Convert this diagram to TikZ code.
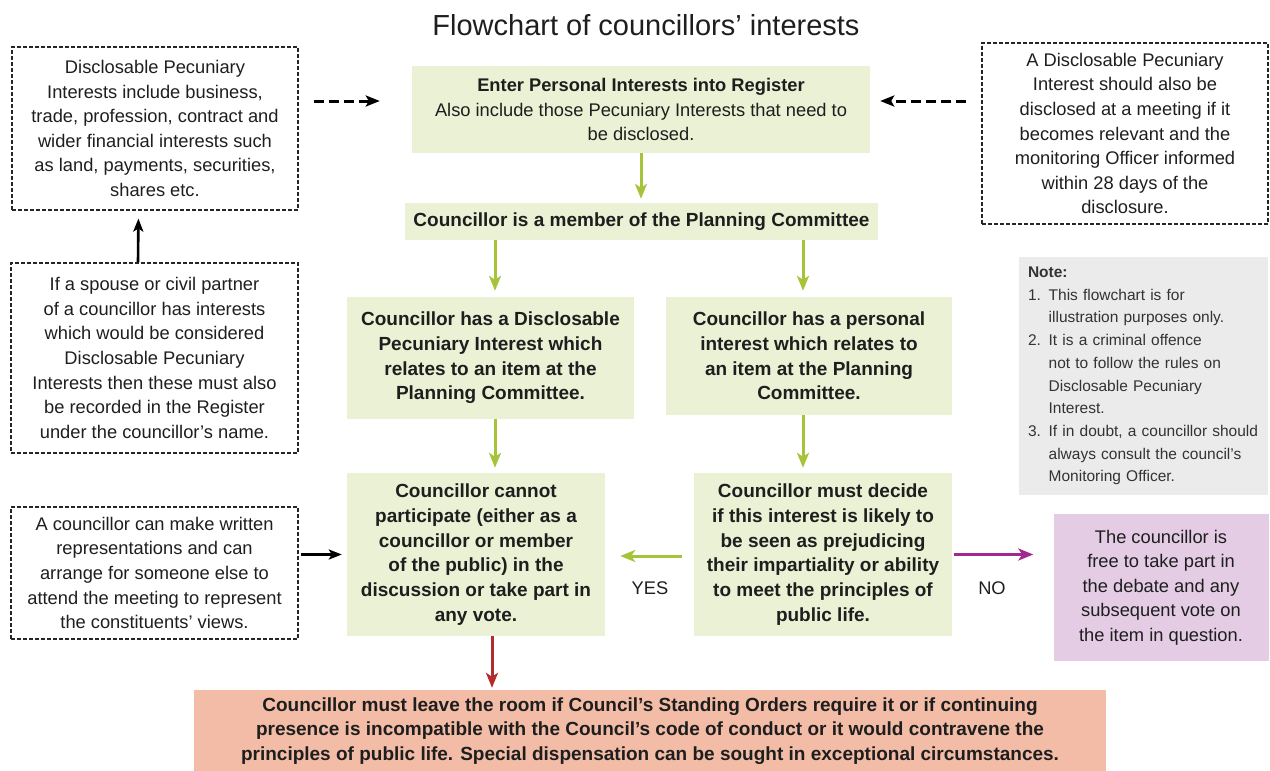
\documentclass[tikz,border=0pt]{standalone}
\usepackage{fontspec}
\setmainfont{Liberation Sans}
\usetikzlibrary{arrows.meta,calc}
\definecolor{gfill}{HTML}{EAF1D4}
\definecolor{garr}{HTML}{A6C43A}
\definecolor{nfill}{HTML}{EBEBEB}
\definecolor{pfill}{HTML}{E4CCE4}
\definecolor{parr}{HTML}{A4278F}
\definecolor{sfill}{HTML}{F2BCA6}
\definecolor{rarr}{HTML}{B22C2C}
\definecolor{txt}{HTML}{1E1E1E}
\newcommand\myreg{\fontsize{18.3}{24.6}\selectfont}
\newcommand\mybold{\fontsize{19}{24.7}\selectfont\bfseries}
\newcommand\mynote{\fontsize{15.5}{22.7}\selectfont}
\begin{document}
\begin{tikzpicture}[x=1pt,y=-1pt,
  every node/.style={text=txt},
  dbox/.style={draw=black!85, line width=1.1pt, dash pattern=on 4pt off 2pt, align=center, inner sep=0pt, font=\myreg},
  gbox/.style={fill=gfill, align=center, inner sep=0pt, font=\mybold},
  dasharr/.style={line width=3pt, dash pattern=on 10pt off 5pt, -{Stealth[length=14pt,width=11pt,inset=3pt]}},
  solarr/.style={line width=2.6pt, -{Stealth[length=13pt,width=10pt,inset=3pt]}},
  grarr/.style={draw=garr, line width=3pt, -{Stealth[length=15pt,width=12pt,inset=4pt]}},
  prarr/.style={draw=parr, line width=3pt, -{Stealth[length=15pt,width=12pt,inset=4pt]}},
  rdarr/.style={draw=rarr, line width=3pt, -{Stealth[length=15pt,width=12pt,inset=4pt]}}]
\useasboundingbox (0,0) rectangle (1270,771);

\node (title) at (646,25) {\fontsize{29}{34}\selectfont Flowchart of councillors’ interests};

\node[dbox, minimum width=286, minimum height=163] (b1) at (155,128.5) {Disclosable Pecuniary\\Interests include business,\\trade, profession, contract and\\wider financial interests such\\as land, payments, securities,\\shares etc.};
\node[dbox, minimum width=287, minimum height=190] (b2) at (154.5,358) {If a spouse or civil partner\\of a councillor has interests\\which would be considered\\Disclosable Pecuniary\\Interests then these must also\\be recorded in the Register\\under the councillor’s name.};
\node[dbox, minimum width=287, minimum height=132] (b3) at (154.5,573) {A councillor can make written\\representations and can\\arrange for someone else to\\attend the meeting to represent\\the constituents’ views.};
\node[dbox, minimum width=286, minimum height=181] (br) at (1125,133.5) {A Disclosable Pecuniary\\Interest should also be\\disclosed at a meeting if it\\becomes relevant and the\\monitoring Officer informed\\within 28 days of the\\disclosure.};

\node[gbox, font=\myreg, minimum width=458, minimum height=87] (enter) at (641,109.5) {{\bfseries Enter Personal Interests into Register}\\Also include those Pecuniary Interests that need to\\be disclosed.};
\node[gbox, minimum width=473, minimum height=37] (member) at (641.5,221.5) {Councillor is a member of the Planning Committee};
\node[gbox, minimum width=287, minimum height=122] (dpi) at (490.5,358) {Councillor has a Disclosable\\Pecuniary Interest which\\relates to an item at the\\Planning Committee.};
\node[gbox, minimum width=286, minimum height=118] (pers) at (809,356) {Councillor has a personal\\interest which relates to\\an item at the Planning\\Committee.};
\node[gbox, minimum width=258, minimum height=163] (cannot) at (476,554.5) {Councillor cannot\\participate (either as a\\councillor or member\\of the public) in the\\discussion or take part in\\any vote.};
\node[gbox, minimum width=258, minimum height=163] (decide) at (823,554.5) {Councillor must decide\\if this interest is likely to\\be seen as prejudicing\\their impartiality or ability\\to meet the principles of\\public life.};
\node[fill=pfill, align=center, inner sep=0pt, font=\myreg, minimum width=215, minimum height=147] (free) at (1161,587.5) {The councillor is\\free to take part in\\the debate and any\\subsequent vote on\\the item in question.};
\node[fill=nfill, align=left, inner xsep=9pt, inner ysep=0pt, text width=231, minimum height=238, font=\mynote, text=black!80] (note) at (1143.5,376) {{\bfseries Note:}\\1. This flowchart is for\\\phantom{1. }illustration purposes only.\\2. It is a criminal offence\\\phantom{2. }not to follow the rules on\\\phantom{2. }Disclosable Pecuniary\\\phantom{2. }Interest.\\3. If in doubt, a councillor should\\\phantom{3. }always consult the council’s\\\phantom{3. }Monitoring Officer.};
\node[fill=sfill, align=center, inner sep=0pt, font=\mybold, minimum width=912, minimum height=82] (bottom) at (650,731) {Councillor must leave the room if Council’s Standing Orders require it or if continuing\\presence is incompatible with the Council’s code of conduct or it would contravene the\\principles of public life. Special dispensation can be sought in exceptional circumstances.};

\node[font=\myreg] (yes) at (650,588) {YES};
\node[font=\myreg] (no) at (992,588) {NO};

% connectors
\coordinate (ea) at ($(enter.west)+(0,-8.5)$);
\coordinate (eb) at ($(enter.east)+(0,-8.5)$);
\draw[dasharr, shorten <=15pt, shorten >=32pt] (b1.east |- ea) -- (ea);
\draw[dasharr, shorten <=15pt, shorten >=10pt] (br.west |- eb) -- (eb);
\draw[solarr, shorten >=8pt] ($(b2.north)+(-16.5,0)$) -- ($(b1.south)+(-16.5,0)$);
\draw[solarr, shorten <=2pt, shorten >=5pt] (b3.east |- cannot.west) -- (cannot.west);

\draw[grarr, shorten >=4pt] (enter.south) -- (enter.south |- member.north);
\draw[grarr, shorten >=6pt] ($(member.south -| dpi.north)+(4.5,0)$) -- ($(dpi.north)+(4.5,0)$);
\draw[grarr, shorten >=6pt] ($(member.south -| pers.north)+(-6,0)$) -- ($(pers.north)+(-6,0)$);
\draw[grarr, shorten >=5pt] ($(dpi.south)+(4.5,0)$) -- ($(cannot.north -| dpi.south)+(4.5,0)$);
\draw[grarr, shorten >=5pt] ($(pers.south)+(-6,0)$) -- ($(decide.north -| pers.south)+(-6,0)$);
\coordinate (yy) at ($(decide.west)+(0,1.5)$);
\draw[grarr, shorten <=12pt, shorten >=15pt] (yy) -- (cannot.east |- yy);
\draw[prarr, shorten <=2pt, shorten >=20pt] (decide.east) -- (free.west |- decide.east);
\draw[rdarr, shorten >=2pt] ($(cannot.south)+(16,0)$) -- ($(bottom.north -| cannot.south)+(16,0)$);
\end{tikzpicture}
\end{document}
